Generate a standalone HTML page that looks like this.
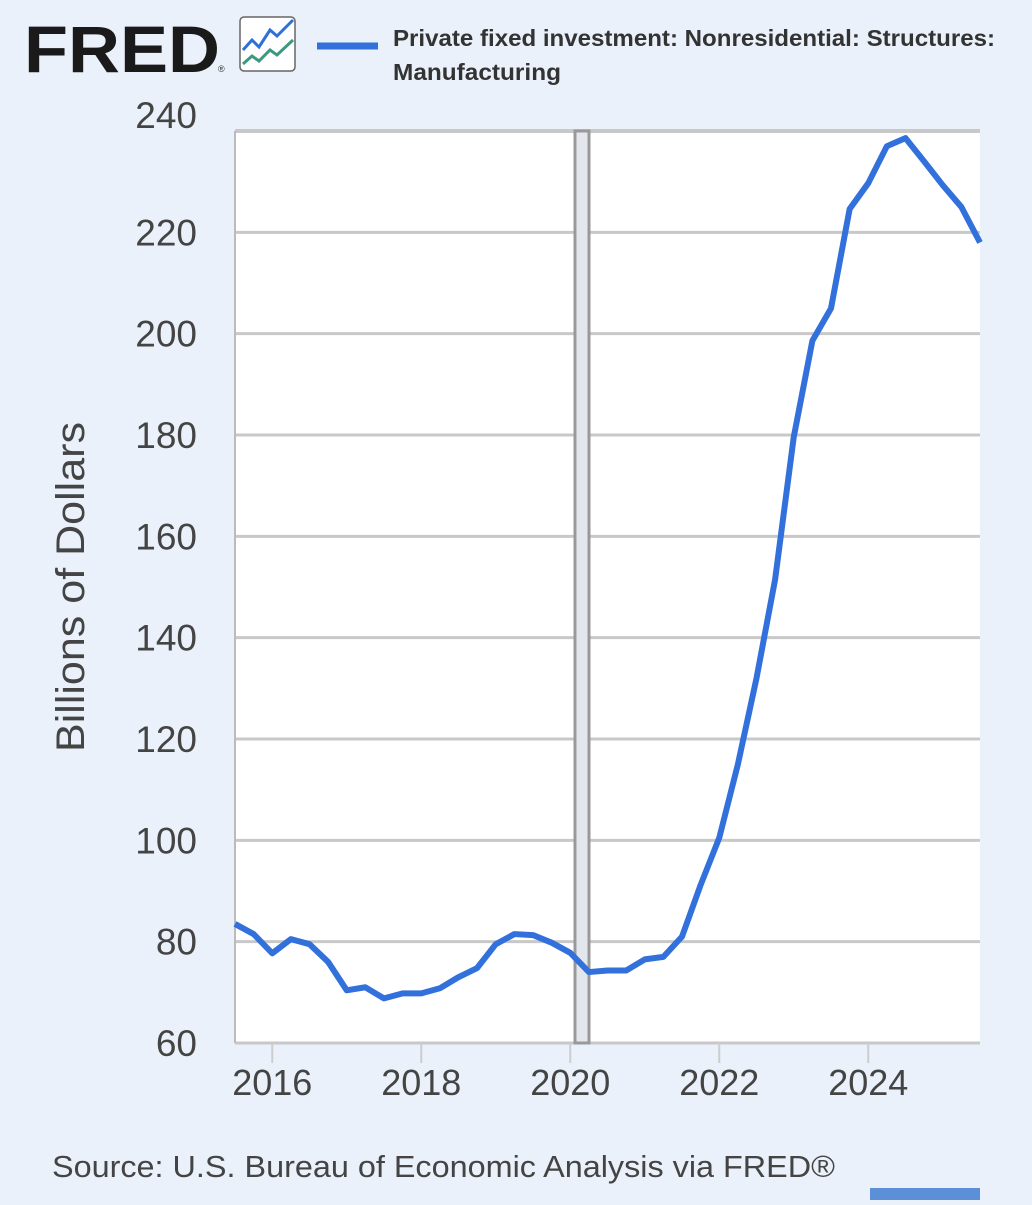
<!DOCTYPE html>
<html><head><meta charset="utf-8"><style>
body{margin:0;background:#eaf1fa;width:1032px;height:1200px;overflow:hidden;font-family:"Liberation Sans",sans-serif}
</style></head><body>
<svg width="1032" height="1200" id="chart">
<rect width="1032" height="1200" fill="#eaf1fa"/>
<text x="24" y="72" font-size="66" font-weight="bold" fill="#1a1a1a" textLength="196" lengthAdjust="spacingAndGlyphs">FRED</text>
<text x="218" y="72" font-size="9" fill="#333">®</text>
<g>
<rect x="240" y="17" width="55" height="54" rx="4" fill="#fff" stroke="#666" stroke-width="1.5"/>
<polyline points="243,50 252,40 259,47 270,30 277,36 293,20" fill="none" stroke="#2f6fd8" stroke-width="3"/>
<polyline points="243,64 252,56 259,61 270,50 277,55 293,40" fill="none" stroke="#3a9a80" stroke-width="3"/>
</g>
<line x1="317" y1="46" x2="378" y2="46" stroke="#3271dc" stroke-width="7"/>
<text x="393" y="46" font-size="23" font-weight="bold" fill="#333" textLength="602" lengthAdjust="spacingAndGlyphs">Private fixed investment: Nonresidential: Structures:</text>
<text x="393" y="80" font-size="23" font-weight="bold" fill="#333" textLength="168" lengthAdjust="spacingAndGlyphs">Manufacturing</text>
<rect x="235" y="131" width="745" height="912" fill="#fff"/>
<g id="grid"></g>
<rect x="575" y="131" width="14" height="912" fill="#e3e6ec" stroke="#999" stroke-width="3"/>
<line x1="235" y1="131" x2="235" y2="1043" stroke="#bbb" stroke-width="2"/>
<g id="ticks"></g>
<polyline id="series" fill="none" stroke="#3271dc" stroke-width="6" stroke-linejoin="round"/>
<text transform="translate(84,587) rotate(-90)" text-anchor="middle" font-size="40" fill="#444" textLength="330" lengthAdjust="spacingAndGlyphs">Billions of Dollars</text>
<text x="52" y="1177" font-size="31" fill="#444" textLength="783" lengthAdjust="spacingAndGlyphs">Source: U.S. Bureau of Economic Analysis via FRED®</text>
<rect x="870" y="1188" width="110" height="12" fill="#5b8fd8"/>
</svg>
<script>
const startYear = 2015.5;
const values = [83.5,81.5,77.7,80.5,79.5,76,70.4,71,68.8,69.8,69.8,70.8,73,74.8,79.5,81.5,81.3,79.8,77.8,74,74.3,74.3,76.5,77,81,91.2,100.5,115,132,151.5,179.6,198.6,205,224.6,229.7,237,238.6,234,229.3,225,218];
const yTicks = [60,80,100,120,140,160,180,200,220,240];
const xTicks = [2016,2018,2020,2022,2024];
const X0=235,X1=980,Y0=1043,Y1=131;
const xs = t => X0 + (t-2015.5)/(2025.5-2015.5)*(X1-X0);
const ys = v => Y0 - (v-60)/(240-60)*(Y0-Y1);
const NS="http://www.w3.org/2000/svg";
const grid=document.getElementById('grid'), ticks=document.getElementById('ticks');
yTicks.forEach(v=>{
  const l=document.createElementNS(NS,'line');
  l.setAttribute('x1',X0);l.setAttribute('x2',X1);l.setAttribute('y1',ys(v));l.setAttribute('y2',ys(v));
  l.setAttribute('stroke','#c8c8c8');l.setAttribute('stroke-width',v===240?4:3);
  
  
  grid.appendChild(l);
  const t=document.createElementNS(NS,'text');
  t.setAttribute('x',197);t.setAttribute('y',ys(v)+(v===240?-3:13));t.setAttribute('text-anchor','end');
  t.setAttribute('font-size','37');t.setAttribute('fill','#444');t.textContent=v;
  
  
  ticks.appendChild(t);
});
xTicks.forEach(y=>{
  const l=document.createElementNS(NS,'line');
  l.setAttribute('x1',xs(y));l.setAttribute('x2',xs(y));l.setAttribute('y1',Y0);l.setAttribute('y2',Y0+20);
  l.setAttribute('stroke','#ccc');l.setAttribute('stroke-width',2);
  
  
  ticks.appendChild(l);
  const t=document.createElementNS(NS,'text');
  t.setAttribute('x',xs(y));t.setAttribute('y',1095);t.setAttribute('text-anchor','middle');
  t.setAttribute('font-size','36');t.setAttribute('fill','#444');t.textContent=y;
  
  
  ticks.appendChild(t);
});
document.getElementById('series').setAttribute('points',values.map((v,i)=>xs(startYear+i*0.25)+','+ys(v)).join(' '));
</script>
</body></html>
